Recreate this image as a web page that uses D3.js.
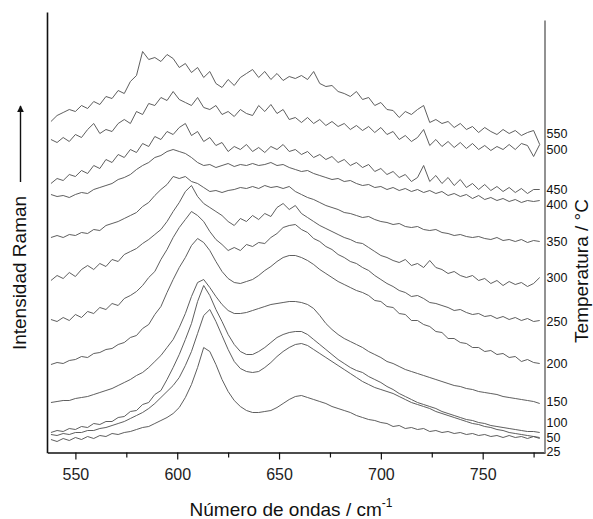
<!DOCTYPE html>
<html>
<head>
<meta charset="utf-8">
<script src="https://cdn.jsdelivr.net/npm/d3@7"></script>
<style>
  body { margin: 0; background: #fff; }
  svg { display: block; font-family: Arial, "Liberation Sans", sans-serif; }
</style>
</head>
<body>
<div id="grafico"></div>
<script>
//Datos (intensidad en unidades arbitrarias, espectros desplazados)
const numerosOnda = [538,541,544,547,550,553,556,559,562,565,568,571,574,577,580,583,586,589,592,595,
  598,601,604,607,610,613,616,619,622,625,628,631,634,637,640,643,646,649,652,655,
  658,661,664,667,670,673,676,679,682,685,688,691,694,697,700,703,706,709,712,715,
  718,721,724,727,730,733,736,739,742,745,748,751,754,757,760,763,766,769,772,775,778];

const temperaturas = [25, 50, 100, 150, 200, 250, 300, 350, 400, 450, 500, 550];

const i25 = [13,11,14,12,15,13,16,14,17,16,19,18,20,21,23,25,26,29,32,35,39,45,55,68,85,105,101,88,73,61,
  52,46,42,40,40,41,42,45,49,53,56,57,55,53,51,49,46,44,42,40,37,35,33,32,30,29,26,27,24,25,
  23,24,21,22,20,21,19,20,18,19,17,18,16,17,15,17,15,16,14,16,14];
const i50 = [18,17,19,18,20,20,22,22,24,25,27,29,31,34,37,40,44,49,55,61,67,75,87,101,119,137,143,131,117,103,
  91,84,81,80,81,85,90,96,101,105,108,109,107,103,99,95,91,87,83,79,75,71,68,65,63,61,59,56,53,50,
  48,46,44,41,39,37,35,33,31,29,28,26,25,23,22,20,19,18,17,16,15];
const i100 = [20,22,21,24,23,26,25,29,28,31,31,35,36,41,42,48,50,58,62,73,85,98,113,129,151,167,157,143,131,118,
  108,101,98,98,101,105,110,115,118,120,121,121,118,113,108,103,98,93,89,85,82,80,76,73,70,66,63,59,56,53,
  50,48,46,44,41,39,37,35,33,32,30,29,27,26,25,24,23,22,21,21,20];
const i150 = [50,51,52,52,54,55,56,58,60,62,64,67,70,73,77,80,85,91,97,105,113,125,139,156,170,173,165,156,148,142,
  139,139,140,142,144,146,148,149,150,151,151,150,148,144,137,129,123,118,114,111,108,105,101,98,95,91,89,86,83,81,
  79,77,75,73,71,69,67,66,64,63,61,60,59,58,56,55,54,53,52,51,49];
const i200 = [88,90,89,92,93,96,95,99,100,103,104,108,110,115,117,124,128,138,146,160,173,185,195,207,214,210,202,191,181,174,
  170,169,171,173,177,182,186,191,195,197,197,195,192,188,183,179,175,171,168,165,162,160,157,152,151,146,145,139,138,132,
  132,128,126,121,120,114,114,110,109,105,105,101,102,98,99,95,96,91,93,90,89];
const i250 = [133,131,135,132,138,135,141,139,145,143,149,147,154,157,161,167,175,181,193,203,215,225,233,241,237,231,221,213,208,202,
  205,202,208,206,210,209,215,219,225,227,228,223,220,214,211,206,203,198,195,191,189,185,182,177,173,169,166,162,160,156,
  157,154,150,149,147,145,142,143,140,138,139,136,137,134,136,133,135,132,134,131,132];
const i300 = [172,177,174,180,176,183,187,183,189,186,193,191,198,201,204,209,213,218,223,231,241,250,261,267,256,249,245,241,237,231,
  227,234,231,237,233,239,236,245,249,243,247,239,235,231,227,224,221,218,215,213,210,209,205,201,197,195,192,190,193,187,
  189,185,192,185,183,179,181,177,175,177,172,174,169,172,167,171,168,170,166,169,175];
const i350 = [215,217,215,218,217,220,219,223,222,227,229,231,234,237,240,246,250,257,263,268,276,274,276,271,269,265,261,262,260,262,
  263,265,264,266,264,267,265,266,264,266,261,258,255,253,250,247,245,243,240,239,237,235,236,233,231,230,228,229,226,225,
  226,223,222,223,220,219,217,218,216,215,216,214,213,215,212,213,211,213,210,212,211];
const i400 = [258,256,257,255,258,260,259,263,265,267,269,273,275,278,283,287,290,295,297,301,303,301,299,295,290,287,288,285,287,289,
  286,288,287,289,287,288,290,287,288,285,283,281,282,279,277,275,273,274,271,272,269,267,268,265,266,263,265,262,264,261,
  263,260,262,259,261,257,259,256,258,254,257,253,255,252,254,251,253,250,252,251,252];
const i450 = [269,274,272,278,276,282,279,287,284,293,290,298,295,303,300,309,306,316,313,321,318,325,329,317,321,311,315,307,310,301,
  306,303,308,301,305,300,306,303,308,301,303,298,301,295,298,293,296,290,293,287,290,285,288,281,284,278,281,275,278,271,
  275,287,271,277,269,275,267,273,265,269,263,268,262,266,261,265,260,264,259,263,263];
const i500 = [313,310,315,311,318,315,323,329,319,323,321,329,333,329,341,338,349,347,355,352,361,353,350,347,355,345,343,347,338,341,
  336,343,339,337,347,341,348,339,343,333,335,330,335,329,333,327,331,326,329,323,327,322,326,320,325,318,321,313,317,311,
  315,323,307,313,306,311,305,310,304,309,303,307,302,306,303,308,303,309,307,296,308];
const i550 = [331,337,340,343,341,347,344,351,348,356,354,362,359,371,377,401,393,395,391,398,394,385,389,380,385,375,381,369,365,373,
  367,375,379,383,375,381,373,379,372,376,374,377,373,381,369,366,367,361,359,356,361,353,355,347,350,343,342,335,341,338,
  343,347,330,333,329,331,325,329,323,326,320,325,321,318,323,319,322,317,320,322,308];

const espectros = [i25, i50, i100, i150, i200, i250, i300, i350, i400, i450, i500, i550];

//------Niveles donde van las etiquetas de temperatura (eje derecho)
const nivelesEtiqueta = [1, 15.5, 30, 51, 89, 131, 175, 211, 248.5, 263.5, 303, 319];

//------Marcas del eje x
const ticksMayores = [550, 600, 650, 700, 750];
const ticksMenores = [575, 625, 675, 725, 775];

//------Creación del svg
const ancho = 593;
const alto = 519;

const svg = d3
  .select("#grafico")
  .append("svg")
  .attr("width", ancho)
  .attr("height", alto);

svg.append("rect")
  .attr("width", ancho)
  .attr("height", alto)
  .attr("fill", "#fff");

//------Escalas
const xScale = d3
  .scaleLinear()
  .domain([536.3, 780.6])
  .range([47.5, 545]);

const yScale = d3
  .scaleLinear()
  .domain([0, 440])
  .range([452.5, 12.5]);

//------Espectros
const linea = d3.line()
  .x((d, i) => xScale(numerosOnda[i]))
  .y(d => yScale(d));

svg.append("g")
  .selectAll("path")
  .data(espectros)
  .enter()
  .append("path")
  .attr("d", d => linea(d))
  .attr("fill", "none")
  .attr("stroke", "#555")
  .attr("stroke-width", 0.95)
  .attr("stroke-linejoin", "round");

//------Eje x (marcas mayores con texto)
const ejeX = svg
  .append("g")
  .attr("transform", `translate(0,${yScale(0)})`)
  .call(d3.axisBottom(xScale)
    .tickValues(ticksMayores)
    .tickSize(7)
    .tickSizeOuter(0)
    .tickPadding(9));

ejeX.select(".domain")
  .attr("stroke", "#111")
  .attr("stroke-width", 1.6);

ejeX.selectAll(".tick line")
  .attr("stroke", "#111")
  .attr("stroke-width", 1.2);

ejeX.selectAll(".tick text")
  .attr("font-size", 16)
  .attr("fill", "#222")
  .attr("font-family", "Arial, 'Liberation Sans', sans-serif");

//------Marcas menores
const ejeMenor = svg
  .append("g")
  .attr("transform", `translate(0,${yScale(0)})`)
  .call(d3.axisBottom(xScale)
    .tickValues(ticksMenores)
    .tickSize(5)
    .tickFormat(""));

ejeMenor.select(".domain").remove();
ejeMenor.selectAll(".tick line")
  .attr("stroke", "#111")
  .attr("stroke-width", 1.2);

//------Eje izquierdo (solo la línea)
svg.append("line")
  .attr("x1", xScale.range()[0])
  .attr("x2", xScale.range()[0])
  .attr("y1", yScale.range()[1])
  .attr("y2", yScale.range()[0] + 0.8)
  .attr("stroke", "#111")
  .attr("stroke-width", 1.6);

//------Eje derecho con las temperaturas
const ejeT = svg
  .append("g")
  .attr("transform", `translate(${xScale.range()[1]},0)`)
  .call(d3.axisRight(yScale)
    .tickValues(nivelesEtiqueta)
    .tickFormat((d, i) => temperaturas[i])
    .tickSize(0)
    .tickPadding(1.5));

ejeT.select(".domain").remove();
ejeT.selectAll(".tick text")
  .attr("font-size", 12.5)
  .attr("fill", "#111")
  .attr("font-family", "Arial, 'Liberation Sans', sans-serif");

svg.append("line")
  .attr("x1", xScale.range()[1])
  .attr("x2", xScale.range()[1])
  .attr("y1", 20.5)
  .attr("y2", yScale.range()[0] + 0.8)
  .attr("stroke", "#777")
  .attr("stroke-width", 1.6);

//------Títulos
svg.append("text")
  .attr("x", 291)
  .attr("y", 516)
  .attr("text-anchor", "middle")
  .attr("font-size", 19)
  .attr("fill", "#111")
  .text("Número de ondas / cm")
  .append("tspan")
  .attr("dy", -9)
  .attr("font-size", 12)
  .text("-1");

svg.append("text")
  .attr("transform", "translate(25.5,273) rotate(-90)")
  .attr("text-anchor", "middle")
  .attr("font-size", 19)
  .attr("fill", "#111")
  .text("Intensidad Raman");

svg.append("text")
  .attr("transform", "translate(588,271) rotate(-90)")
  .attr("text-anchor", "middle")
  .attr("font-size", 19)
  .attr("fill", "#111")
  .text("Temperatura / °C");

//------Flecha de intensidad
svg.append("defs")
  .append("marker")
  .attr("id", "punta")
  .attr("viewBox", "0 0 10 10")
  .attr("refX", 9)
  .attr("refY", 5)
  .attr("markerWidth", 5)
  .attr("markerHeight", 6)
  .attr("orient", "auto")
  .append("path")
  .attr("d", "M0,0 L10,5 L0,10 z")
  .attr("fill", "#111");

svg.append("line")
  .attr("x1", 20.5)
  .attr("x2", 20.5)
  .attr("y1", 182)
  .attr("y2", 106)
  .attr("stroke", "#111")
  .attr("stroke-width", 1.4)
  .attr("marker-end", "url(#punta)");
</script>
</body>
</html>
